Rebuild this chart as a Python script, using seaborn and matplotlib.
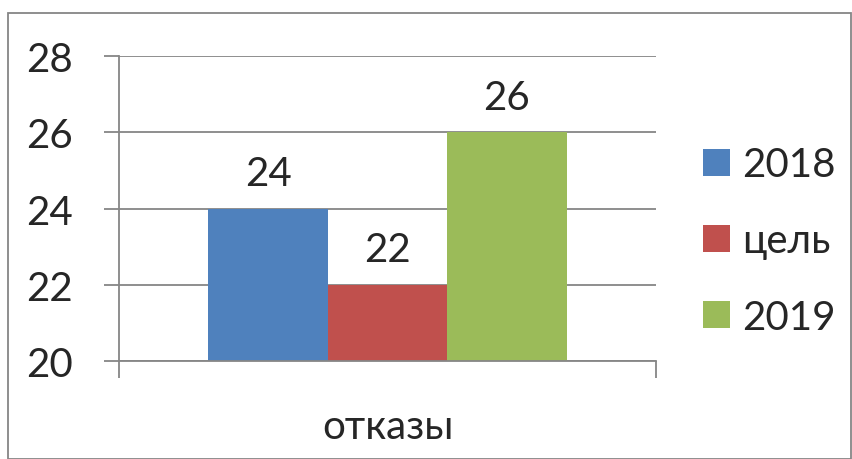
import pandas as pd
import seaborn as sns
import matplotlib.pyplot as plt
from matplotlib.patches import Rectangle

# chart data
category = ["отказы"]
series = ["2018", "цель", "2019"]
values = [24, 22, 26]
colors = ["#4F81BD", "#C0504D", "#9BBB59"]
y_ticks = [20, 22, 24, 26, 28]

sns.set_style("white")
plt.rcParams['font.family'] = ['Lato', 'DejaVu Sans']

df = pd.DataFrame({"category": category * len(series),
                   "series": series,
                   "value": values})

fig = plt.figure(figsize=(8.53, 4.60), dpi=100)
W, H = 853, 460
ax = fig.add_axes([119 / W, 1 - 362 / H, (656 - 119) / W, (362 - 57) / H])

sns.barplot(data=df, x="category", y="value", hue="series", palette=colors,
            width=0.667, saturation=1, linewidth=0, ax=ax, legend=True)

ax.set_ylim(20, 28)
ax.set_yticks(y_ticks)
ax.set_xlim(-0.5, 0.5)
ax.set_xticks([-0.5, 0.5])
ax.set_xticklabels([])
ax.set_xlabel("")
ax.set_ylabel("")

grid_c = "#868686"
ax.yaxis.grid(True, color=grid_c, linewidth=1.3)
ax.set_axisbelow(True)
for s in ["top", "right"]:
    ax.spines[s].set_visible(False)
for s in ["left", "bottom"]:
    ax.spines[s].set_color(grid_c)
    ax.spines[s].set_linewidth(1.3)
ax.tick_params(axis="y", direction="out", length=11, width=1.3, color=grid_c,
               labelsize=29, pad=22, left=True)
ax.tick_params(axis="x", direction="out", length=12, width=1.3, color=grid_c,
               bottom=True)

# value labels
for cont in ax.containers:
    ax.bar_label(cont, fontsize=29, padding=12)

# category label
ax.text(0, -0.215, category[0], transform=ax.get_xaxis_transform(),
        ha="center", va="center", fontsize=29)

# legend
handles, labels = ax.get_legend_handles_labels()
ax.legend_.remove()
fig.legend(handles, labels, loc="center left",
           bbox_to_anchor=(683 / W, 1 - 242 / H), frameon=False,
           fontsize=29, handlelength=0.67, handleheight=0.67,
           handletextpad=0.3, labelspacing=0.97, borderpad=0)

# outer chart border
fig.patches.append(Rectangle((8 / W, 0), (851 - 8) / W, 1 - 14 / H,
                             transform=fig.transFigure, fill=False,
                             edgecolor=grid_c, linewidth=1.3))

fig.savefig("out.png", dpi=100)
plt.close()
